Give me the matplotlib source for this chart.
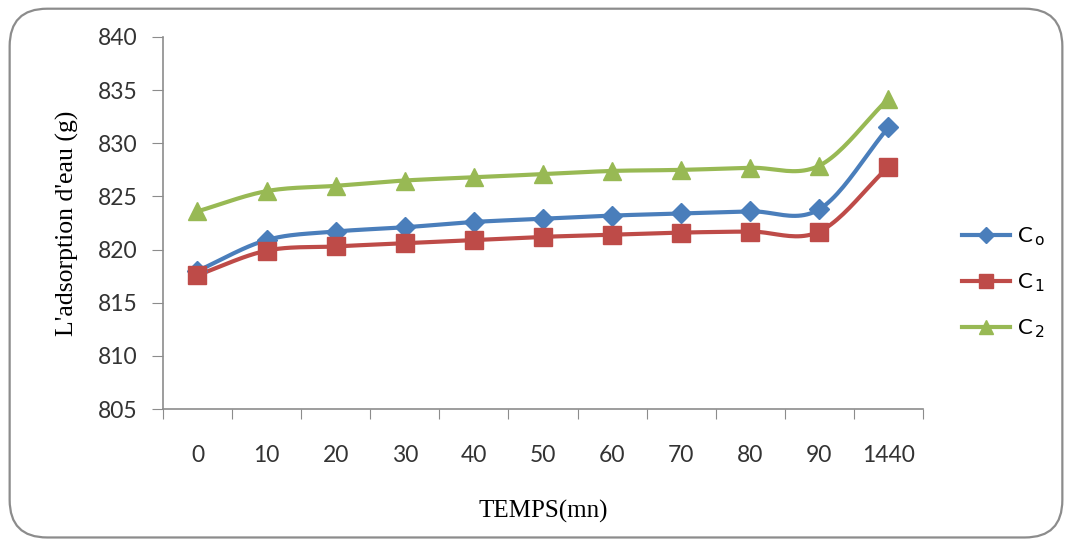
"""
Water adsorption vs time for three compositions (C0, C1, C2)
"""
import numpy as np
import matplotlib.pyplot as plt
from matplotlib.patches import FancyBboxPatch
from matplotlib.lines import Line2D

# ── Data ─────────────────────────────────────────────────────────────────────
temps = ["0", "10", "20", "30", "40", "50", "60", "70", "80", "90", "1440"]
c0 = [818.0, 820.9, 821.7, 822.1, 822.6, 822.9, 823.2, 823.4, 823.6, 823.8, 831.5]
c1 = [817.6, 819.9, 820.3, 820.6, 820.9, 821.2, 821.4, 821.6, 821.7, 821.7, 827.8]
c2 = [823.6, 825.5, 826.0, 826.5, 826.8, 827.1, 827.4, 827.5, 827.7, 827.9, 834.2]
yticks = [805, 810, 815, 820, 825, 830, 835, 840]

BLUE, RED, GREEN = "#4A7EBB", "#BE4B48", "#98B954"
SANS = ["Lato", "DejaVu Sans"]


def smooth(xs, ys, n=24):
    """Catmull-Rom spline through the points (office-style smoothed line)."""
    p = np.column_stack([xs, ys]).astype(float)
    p = np.vstack([p[0] - (p[1] - p[0]), p, p[-1] + (p[-1] - p[-2])])
    out = []
    t = np.linspace(0, 1, n)[:, None]
    for i in range(1, len(p) - 2):
        p0, p1, p2, p3 = p[i - 1], p[i], p[i + 1], p[i + 2]
        seg = 0.5 * ((2 * p1) + (-p0 + p2) * t + (2 * p0 - 5 * p1 + 4 * p2 - p3) * t**2
                     + (-p0 + 3 * p1 - 3 * p2 + p3) * t**3)
        out.append(seg if i == 1 else seg[1:])
    s = np.vstack(out)
    return s[:, 0], s[:, 1]


fig = plt.figure(figsize=(10.72, 5.44), dpi=100)
ax = fig.add_axes([0.152, 0.248, 0.709, 0.684])

# rounded outer frame
fig.patches.append(FancyBboxPatch((0.009, 0.012), 0.982, 0.972,
                                  boxstyle="round,pad=0,rounding_size=0.035",
                                  transform=fig.transFigure, fill=False,
                                  edgecolor="#8c8c8c", linewidth=1.6,
                                  mutation_aspect=1072 / 544))

x = np.arange(len(temps))
series = [(c0, BLUE, "D", 10, "C$_{\\,\\mathrm{o}}$"),
          (c1, RED, "s", 12.5, "C$_{\\,1}$"),
          (c2, GREEN, "^", 12.5, "C$_{\\,2}$")]
handles = []
for vals, col, mk, ms, lab in series:
    sx, sy = smooth(x, vals)
    ax.plot(sx, sy, color=col, lw=3.0, solid_capstyle="round", zorder=2)
    ax.plot(x, vals, ls="none", marker=mk, ms=ms, color=col, zorder=3)
    handles.append(Line2D([], [], color=col, lw=3.0, marker=mk, ms=ms * 0.8, label=lab))

ax.set_xlim(-0.5, len(temps) - 0.5)
ax.set_ylim(805, 840)
ax.set_yticks(yticks)
ax.set_xticks(np.arange(len(temps) + 1) - 0.5)
ax.set_xticklabels([])
ax.set_xticks(x, minor=True)
ax.set_xticklabels(temps, minor=True)
ax.tick_params(axis="x", which="major", length=7, direction="out", color="#8c8c8c")
ax.tick_params(axis="x", which="minor", length=0, pad=26, labelsize=16.5, labelcolor="#333333")
ax.tick_params(axis="y", length=8, color="#8c8c8c", pad=10, labelsize=16.5, labelcolor="#333333")
for lbl in ax.get_xticklabels(minor=True) + ax.get_yticklabels():
    lbl.set_family(SANS)
for s in ["top", "right"]:
    ax.spines[s].set_visible(False)
for s in ["left", "bottom"]:
    ax.spines[s].set_color("#8c8c8c")
    ax.spines[s].set_linewidth(1.2)

ax.set_xlabel("TEMPS(mn)", family="Liberation Serif", fontsize=18, labelpad=24)
ax.set_ylabel("L'adsorption d'eau (g)", family="Liberation Serif", fontsize=18.5, labelpad=14)

fig.legend(handles=handles, loc="center left", bbox_to_anchor=(0.897, 0.480),
           frameon=False, borderpad=0, borderaxespad=0, labelspacing=1.05,
           handlelength=2.2, handletextpad=0.3, prop={"family": SANS, "size": 16})

plt.savefig("out.png", dpi=100)
plt.close()
